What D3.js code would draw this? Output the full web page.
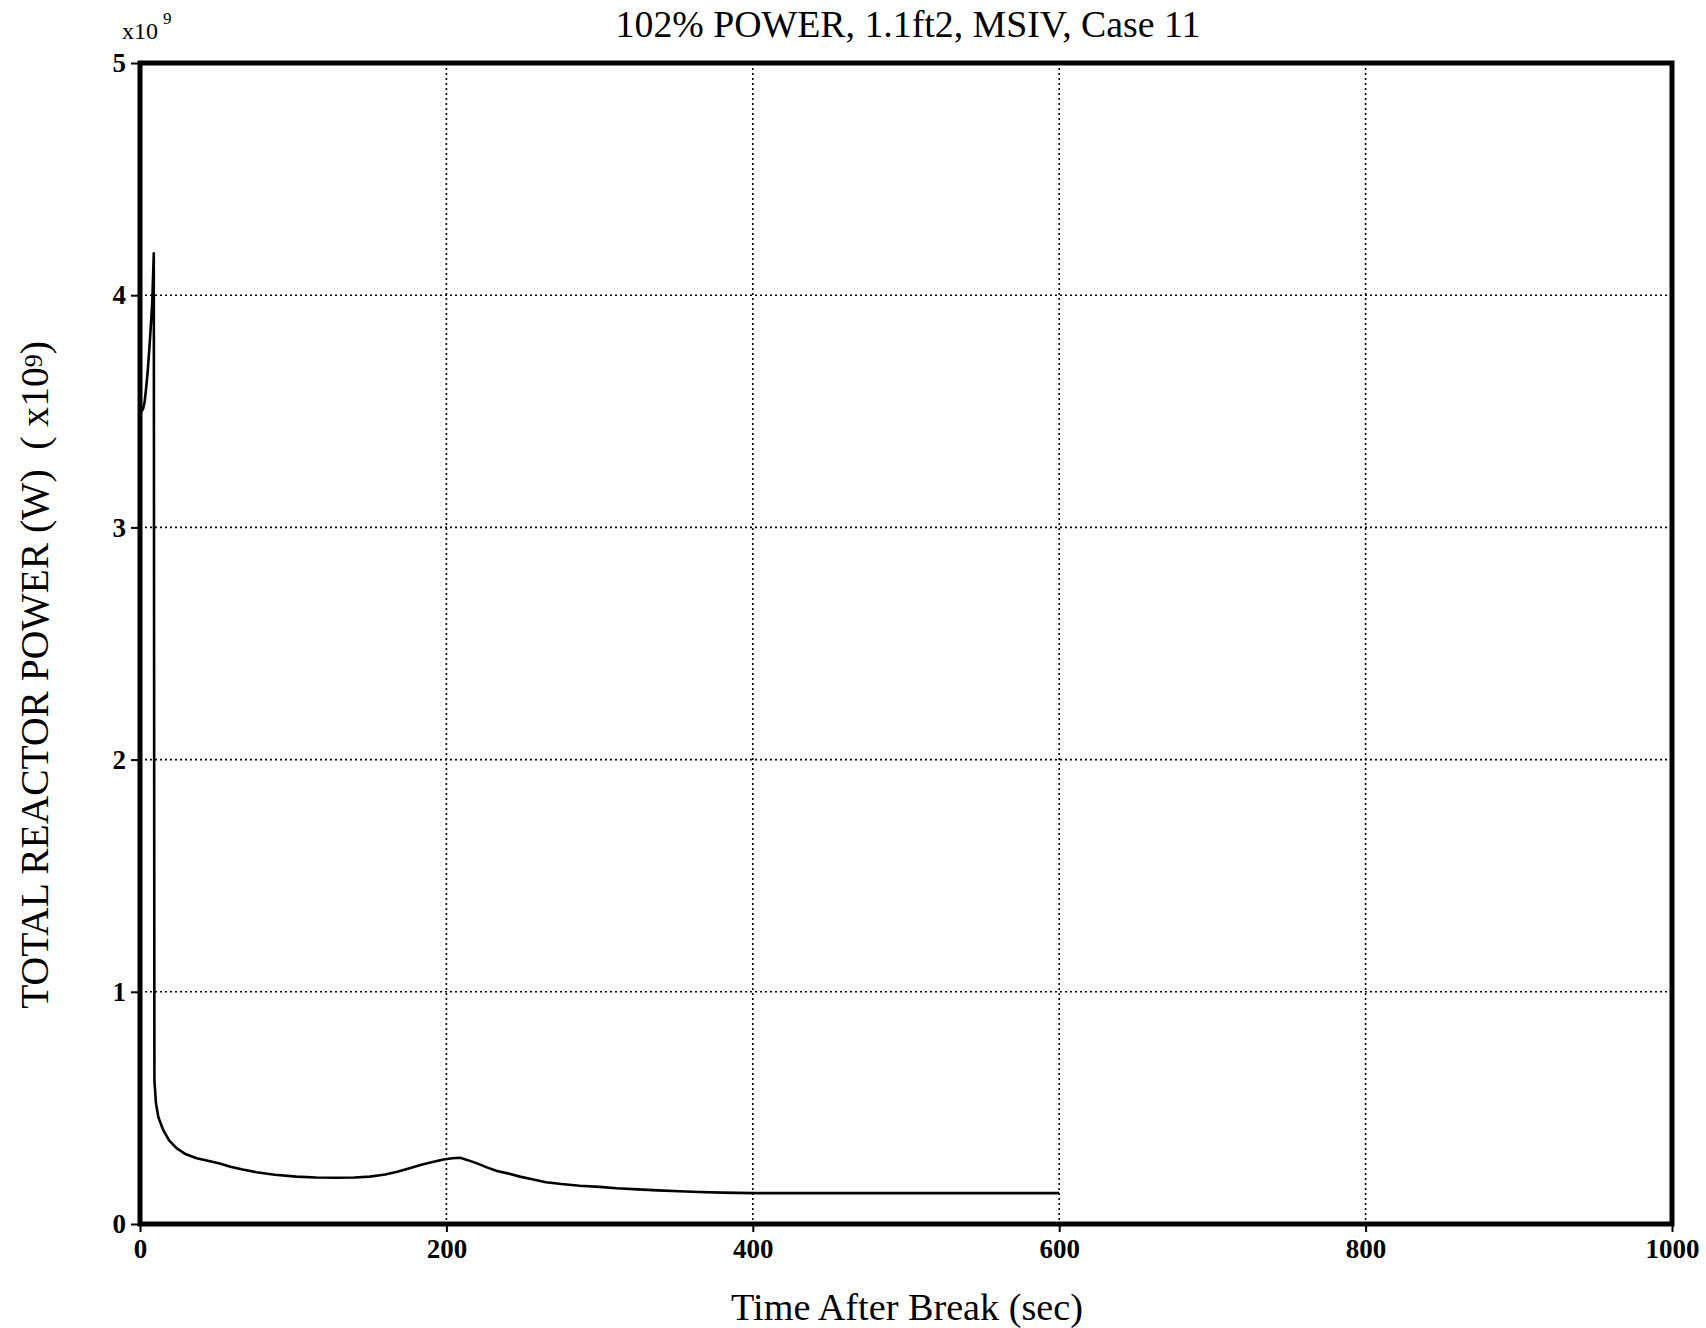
<!DOCTYPE html>
<html>
<head>
<meta charset="utf-8">
<script src="https://cdn.jsdelivr.net/npm/d3@7"></script>
<style>
  html, body { margin: 0; padding: 0; background: #fff; }
  svg { display: block; }
  text { white-space: pre; }
</style>
</head>
<body>
<svg id="chart" width="1706" height="1328"></svg>
<script>
// ---- data ----
const timeSec = [0, 1, 2, 3, 4, 5, 6, 7, 8, 9, 9.4, 10.4, 12, 15.2, 19, 24, 30, 37, 45, 52, 59, 67, 76, 88, 102, 115, 128, 140, 150, 160, 168, 176, 183, 191, 198, 204, 209, 214, 220, 226, 233, 240, 248, 256, 265, 275, 287, 300, 311, 325, 338, 352, 365, 380, 400, 500, 600];
const powerE9 = [3.50, 3.50, 3.51, 3.54, 3.60, 3.67, 3.76, 3.86, 3.97, 4.18, 0.62, 0.52, 0.46, 0.404, 0.36, 0.326, 0.30, 0.283, 0.271, 0.261, 0.247, 0.235, 0.223, 0.212, 0.204, 0.200, 0.199, 0.200, 0.204, 0.213, 0.225, 0.240, 0.254, 0.267, 0.278, 0.283, 0.285, 0.275, 0.261, 0.245, 0.228, 0.218, 0.204, 0.193, 0.180, 0.172, 0.165, 0.160, 0.154, 0.149, 0.145, 0.141, 0.138, 0.135, 0.133, 0.133, 0.133];
const xTicks = [0, 200, 400, 600, 800, 1000];
const yTicks = [0, 1, 2, 3, 4, 5];
const titleText = "102% POWER, 1.1ft2, MSIV, Case 11";
const xLabelText = "Time After Break (sec)";
const yLabelText = "TOTAL REACTOR POWER (W)  ( x10";

// ---- layout ----
const svg = d3.select("#chart");
const L = 140, R = 1672, T = 63, B = 1224;
const x = d3.scaleLinear().domain([0, 1000]).range([L, R]);
const y = d3.scaleLinear().domain([0, 5]).range([B, T]);
const serif = "'Liberation Serif', 'Times New Roman', serif";

// grid
const grid = svg.append("g").attr("stroke", "#000").attr("stroke-width", 1.6).attr("stroke-dasharray", "2,3");
grid.selectAll("line.gx").data(xTicks.filter(d => d > 0 && d < 1000)).join("line")
  .attr("x1", d => x(d)).attr("x2", d => x(d)).attr("y1", T).attr("y2", B);
grid.selectAll("line.gy").data(yTicks.filter(d => d > 0 && d < 5)).join("line")
  .attr("y1", d => y(d)).attr("y2", d => y(d)).attr("x1", L).attr("x2", R);

// axes
const ax = svg.append("g").attr("transform", `translate(0,${B})`)
  .call(d3.axisBottom(x).tickValues(xTicks).tickSize(8).tickPadding(7).tickFormat(d3.format("d")));
const ay = svg.append("g").attr("transform", `translate(${L},0)`)
  .call(d3.axisLeft(y).tickValues(yTicks).tickSize(9).tickPadding(5).tickFormat(d3.format("d")));
[ax, ay].forEach(g => {
  g.select(".domain").remove();
  g.selectAll(".tick line").attr("stroke", "#000").attr("stroke-width", 2);
  g.selectAll(".tick text").attr("fill", "#000").attr("font-family", serif)
    .attr("font-weight", "bold").attr("font-size", 27);
});

// frame
svg.append("rect").attr("x", L).attr("y", T).attr("width", R - L).attr("height", B - T)
  .attr("fill", "none").attr("stroke", "#000").attr("stroke-width", 5);

// curve
const line = d3.line().x((d, i) => x(timeSec[i])).y(d => y(d));
svg.append("path").datum(powerE9).attr("d", line)
  .attr("fill", "none").attr("stroke", "#000").attr("stroke-width", 2.6)
  .attr("stroke-linejoin", "round");

// x10^9 multiplier
const mult = svg.append("text").attr("x", 122).attr("y", 39)
  .attr("font-family", serif).attr("font-size", 24).attr("fill", "#000");
mult.append("tspan").text("x10");
mult.append("tspan").attr("dx", 5).attr("dy", -15).attr("font-size", 17).text("9");

// title
function fit(sel, width) {
  const w = sel.node().getComputedTextLength();
  const fs = +sel.attr("font-size");
  sel.attr("font-size", fs * width / w);
}
const title = svg.append("text").attr("x", 908).attr("y", 37).attr("text-anchor", "middle")
  .attr("font-family", serif).attr("font-size", 34).attr("fill", "#000").text(titleText);
fit(title, 585);

// x label
const xl = svg.append("text").attr("x", 907).attr("y", 1320).attr("text-anchor", "middle")
  .attr("font-family", serif).attr("font-size", 34).attr("fill", "#000").text(xLabelText);
fit(xl, 352);

// y label
const yl = svg.append("text").attr("transform", "translate(48,675) rotate(-90)")
  .attr("text-anchor", "middle").attr("font-family", serif).attr("font-size", 32).attr("fill", "#000");
yl.append("tspan").text(yLabelText);
yl.append("tspan").attr("dy", -6).attr("font-size", 26).text("9");
yl.append("tspan").attr("dy", 6).text(")");
const ylw = yl.node().getComputedTextLength();
yl.attr("font-size", 32 * 671 / ylw);
</script>
</body>
</html>
